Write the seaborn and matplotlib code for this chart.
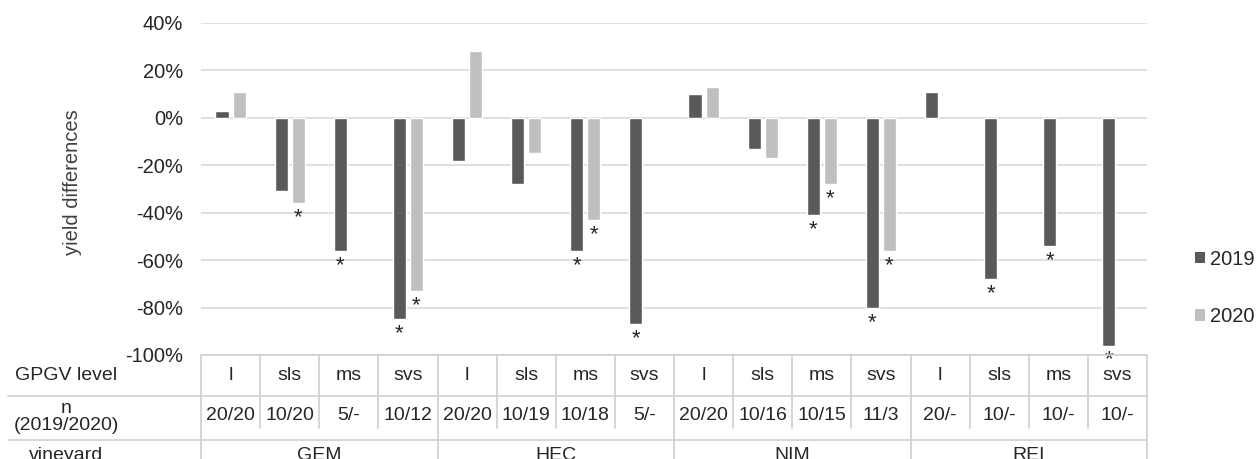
import numpy as np
import pandas as pd
import matplotlib
matplotlib.use("Agg")
import matplotlib.pyplot as plt
import seaborn as sns
from matplotlib.lines import Line2D
from matplotlib.patches import Patch
from matplotlib.ticker import PercentFormatter
from matplotlib.transforms import blended_transform_factory

# Chart data
vineyards = ['GEM', 'HEC', 'NIM', 'REI']
levels = ['l', 'sls', 'ms', 'svs']
years = ['2019', '2020']
n_labels = ['20/20', '10/20', '5/-', '10/12',
            '20/20', '10/19', '10/18', '5/-',
            '20/20', '10/16', '10/15', '11/3',
            '20/-', '10/-', '10/-', '10/-']
diff_2019 = [3, -31, -56, -85, -18, -28, -56, -87, 10, -13, -41, -80, 11, -68, -54, -96]
diff_2020 = [11, -36, np.nan, -73, 28, -15, -43, np.nan, 13, -17, -28, -56,
             np.nan, np.nan, np.nan, np.nan]
# significance marks (*) under the bars
sig_2019 = [0, 0, 1, 1, 0, 0, 1, 1, 0, 0, 1, 1, 0, 1, 1, 1]
sig_2020 = [0, 1, 0, 1, 0, 0, 1, 0, 0, 0, 1, 1, 0, 0, 0, 0]

colors = ['#595959', '#bfbfbf']
W, H = 1256, 459

plt.rcParams['axes.unicode_minus'] = False
sns.set_style('white')
plt.rcParams['font.family'] = ['Liberation Sans', 'DejaVu Sans']
FS = 14.5      # ticks, axis label, legend
FS_TAB = 14    # data table

# long format table
categories = [f'{v} {l}' for v in vineyards for l in levels]
df = pd.DataFrame({
    'category': categories * 2,
    'year': [years[0]] * 16 + [years[1]] * 16,
    'value': diff_2019 + diff_2020,
}).dropna()

fig = plt.figure(figsize=(W / 100, H / 100), dpi=100)
ax = fig.add_axes([201 / W, 1 - 355 / H, 946 / W, 332 / H])

sns.barplot(data=df, x='category', y='value', hue='year', order=categories,
            hue_order=years, palette=colors, saturation=1, width=0.58, gap=0.23,
            errorbar=None, legend=False, ax=ax)

ax.set_xlim(-0.5, len(categories) - 0.5)
ax.set_ylim(-100, 40)
ax.set_yticks(range(-100, 41, 20))
ax.yaxis.set_major_formatter(PercentFormatter(decimals=0))
ax.tick_params(axis='y', length=0, pad=13, labelsize=FS, labelcolor='#262626')
ax.set_xticks([])
ax.set_xlabel('')
ax.set_ylabel('yield differences', fontsize=FS, color='#404040')
ax.yaxis.set_label_coords(-0.126, 0.52)
ax.yaxis.grid(True, color='#d9d9d9', lw=1.2)
ax.set_axisbelow(True)
for s in ax.spines.values():
    s.set_visible(False)

# significance stars
sigs = {'2019': sig_2019, '2020': sig_2020}
for year, cont in zip(years, ax.containers):
    for bar in cont:
        xc = bar.get_x() + bar.get_width() / 2
        i = int(round(xc))
        if sigs[year][i]:
            ax.annotate('*', (xc, bar.get_height()), xytext=(0, -3),
                        textcoords='offset points', ha='center', va='top',
                        fontsize=16, annotation_clip=False)

# data table under the chart
def fy(px):
    return 1 - px / H

tr = blended_transform_factory(ax.transData, fig.transFigure)
line_c = '#d0d0d0'
right = 1147 / W

def hline(y, x0):
    fig.add_artist(Line2D([x0, right], [fy(y), fy(y)], color=line_c, lw=1.2,
                          transform=fig.transFigure))

hline(355, 201 / W)
hline(395.7, 8 / W)
hline(440, 8 / W)

for k in range(len(categories) + 1):
    x = k - 0.5
    y_end = 470 if k % 4 == 0 else 428
    ax.add_artist(Line2D([x, x], [fy(355), fy(y_end)], color=line_c, lw=1.2,
                         transform=tr, clip_on=False))

lab_x = 66 / W
fig.text(lab_x, fy(375), 'GPGV level', ha='center', va='center', fontsize=FS_TAB)
fig.text(lab_x, fy(417), 'n\n(2019/2020)', ha='center', va='center',
         fontsize=FS_TAB, linespacing=1.05)
fig.text(lab_x, fy(447), 'vineyard', ha='center', va='top', fontsize=FS_TAB)

for i, cat in enumerate(categories):
    ax.text(i, fy(376), cat.split(' ')[1], transform=tr, ha='center',
            va='center', fontsize=FS_TAB)
    ax.text(i, fy(415), n_labels[i], transform=tr, ha='center',
            va='center', fontsize=FS_TAB)
for g, v in enumerate(vineyards):
    ax.text(g * 4 + 1.5, fy(447), v, transform=tr, ha='center', va='top',
            fontsize=FS_TAB)

# legend
handles = [Patch(facecolor=c, edgecolor='none') for c in colors]
fig.legend(handles, years, loc='center left', bbox_to_anchor=(1195 / W, fy(288)),
           frameon=False, fontsize=FS, handlelength=0.5, handleheight=0.5,
           handletextpad=0.25, labelspacing=1.9, borderpad=0, borderaxespad=0)

fig.savefig('out.png', dpi=100)
